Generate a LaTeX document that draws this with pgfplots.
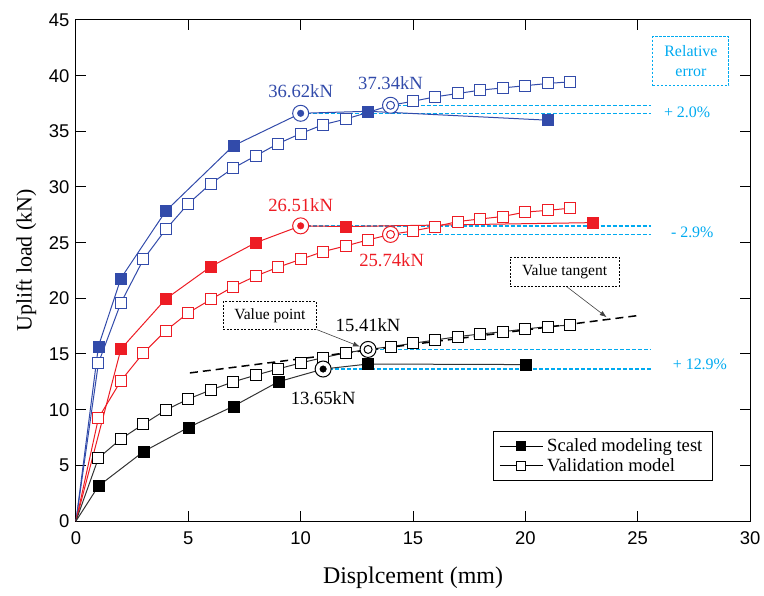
\documentclass[border=0pt]{standalone}
\usepackage{fontspec}
\setmainfont{Liberation Serif}
\newfontfamily\arialf{Liberation Sans}
\usepackage{pgfplots}
\pgfplotsset{compat=1.18}
\usetikzlibrary{arrows.meta}
\definecolor{blueC}{RGB}{50,75,170}
\definecolor{redC}{RGB}{237,28,36}
\definecolor{cyanC}{RGB}{0,170,240}
\newcommand\fs[1]{\fontsize{#1}{#1}\selectfont}
\begin{document}
\begin{tikzpicture}
\begin{axis}[
  width=674bp, height=501bp, scale only axis,
  xmin=0, xmax=30, ymin=0, ymax=45,
  xtick={0,5,...,30}, ytick={0,5,...,45},
  xticklabels={0,5,10,15,20,25,30},
  yticklabels={0,5,10,15,20,25,30,35,40,45},
  tick align=inside, major tick length=10bp,
  tick style={black, line width=1bp},
  axis line style={line width=1bp},
  tick label style={font=\arialf\fontsize{18.5}{18.5}\selectfont},
  xticklabel style={yshift=-7bp},
  yticklabel style={xshift=-3bp},
  xlabel={Displcement (mm)},
  ylabel={Uplift load (kN)},
  xlabel style={font=\fs{24}, at={(axis description cs:0.5,-0.113)}, anchor=center},
  ylabel style={font=\fs{22}, at={(axis description cs:-0.074,0.52)}, anchor=center},
  legend style={at={(axis cs:18.56,8.09)}, anchor=north west, draw=black, line width=0.8bp,
    font=\fs{18.7}, legend cell align=left, inner xsep=6bp, inner ysep=6bp, row sep=2bp,
    nodes={inner xsep=4bp, inner ysep=1.5bp}},
  legend image code/.code={\draw[#1, mark=none] (0cm,0cm) -- (43bp,0cm); \draw[#1] plot coordinates {(21.5bp,0cm)};},
  clip=false,
]
% legend entries
\addlegendimage{black, line width=0.8bp, mark=square*, mark size=4.5bp, mark options={solid}}
\addlegendentry{Scaled modeling test}
\addlegendimage{black, line width=0.8bp, mark=square*, mark size=4.5bp, mark options={solid, fill=white}}
\addlegendentry{Validation model}

% cyan reference lines
\addplot[draw=cyanC, line width=1.3bp, dash pattern=on 4bp off 2bp, forget plot] coordinates {(10,36.62) (25.6,36.62)};
\addplot[draw=cyanC, line width=1.3bp, dash pattern=on 4bp off 2bp, forget plot] coordinates {(14,37.34) (25.6,37.34)};
\addplot[draw=cyanC, line width=1.3bp, dash pattern=on 4bp off 2bp, forget plot] coordinates {(10,26.51) (25.6,26.51)};
\addplot[draw=cyanC, line width=1.3bp, dash pattern=on 4bp off 2bp, forget plot] coordinates {(14,25.74) (25.6,25.74)};
\addplot[draw=cyanC, line width=1.3bp, dash pattern=on 4bp off 2bp, forget plot] coordinates {(13,15.41) (25.6,15.41)};
\addplot[draw=cyanC, line width=1.3bp, dash pattern=on 4bp off 2bp, forget plot] coordinates {(11,13.65) (25.6,13.65)};

% ---------- blue ----------
\addplot[blueC, line width=1bp, forget plot] coordinates {(0,0)(1,15.7)(2,21.8)(4,27.85)(7,33.7)(10,36.62)(13,36.8)(21,36.0)};
\addplot[blueC, line width=1bp, forget plot] coordinates {(0,0)(1,14.2)(2,19.6)(3,23.5)(4,26.2)(5,28.5)(6,30.3)(7,31.7)(8,32.8)(9,33.9)(10,34.8)(11,35.6)(12,36.1)(13,36.7)(14,37.34)(15,37.7)(16,38.1)(17,38.4)(18,38.7)(19,38.9)(20,39.1)(21,39.3)(22,39.45)};
\addplot[blueC, only marks, mark=square*, mark size=5.5bp, mark options={draw=blueC, fill=white, line width=1bp}, forget plot] coordinates {(1,14.2)(2,19.6)(3,23.5)(4,26.2)(5,28.5)(6,30.3)(7,31.7)(8,32.8)(9,33.9)(10,34.8)(11,35.6)(12,36.1)(13,36.7)(15,37.7)(16,38.1)(17,38.4)(18,38.7)(19,38.9)(20,39.1)(21,39.3)(22,39.45)};
\addplot[blueC, only marks, mark=square*, mark size=5.5bp, mark options={fill=blueC}, forget plot] coordinates {(1,15.7)(2,21.8)(4,27.85)(7,33.7)(13,36.8)(21,36.0)};

% ---------- red ----------
\addplot[redC, line width=1bp, forget plot] coordinates {(0,0)(2,15.45)(4,19.95)(6,22.85)(8,25.0)(10,26.51)(12,26.45)(23,26.8)};
\addplot[redC, line width=1bp, forget plot] coordinates {(0,0)(1,9.25)(2,12.6)(3,15.1)(4,17.1)(5,18.7)(6,19.9)(7,21.05)(8,22.0)(9,22.8)(10,23.5)(11,24.2)(12,24.7)(13,25.25)(14,25.74)(15,26.05)(16,26.45)(17,26.9)(18,27.13)(19,27.35)(20,27.75)(21,27.9)(22,28.1)};
\addplot[redC, only marks, mark=square*, mark size=5.5bp, mark options={draw=redC, fill=white, line width=1bp}, forget plot] coordinates {(1,9.25)(2,12.6)(3,15.1)(4,17.1)(5,18.7)(6,19.9)(7,21.05)(8,22.0)(9,22.8)(10,23.5)(11,24.2)(12,24.7)(13,25.25)(15,26.05)(16,26.45)(17,26.9)(18,27.13)(19,27.35)(20,27.75)(21,27.9)(22,28.1)};
\addplot[redC, only marks, mark=square*, mark size=5.5bp, mark options={fill=redC}, forget plot] coordinates {(2,15.45)(4,19.95)(6,22.85)(8,25.0)(12,26.45)(23,26.8)};

% ---------- black ----------
\addplot[black!80, line width=1bp, forget plot] coordinates {(0,0)(1,3.14)(3,6.23)(5,8.4)(7,10.3)(9,12.5)(11,13.65)(13,14.1)(20,14.05)};
\addplot[black!80, line width=1bp, forget plot] coordinates {(0,0)(1,5.66)(2,7.37)(3,8.7)(4,9.97)(5,10.96)(6,11.77)(7,12.5)(8,13.1)(9,13.66)(10,14.2)(11,14.67)(12,15.1)(13,15.41)(14,15.66)(15,15.96)(16,16.26)(17,16.56)(18,16.8)(19,17.0)(20,17.25)(21,17.46)(22,17.6)};
\addplot[black, only marks, mark=square*, mark size=5.5bp, mark options={draw=black, fill=white, line width=1bp}, forget plot] coordinates {(1,5.66)(2,7.37)(3,8.7)(4,9.97)(5,10.96)(6,11.77)(7,12.5)(8,13.1)(9,13.66)(10,14.2)(11,14.67)(12,15.1)(14,15.66)(15,15.96)(16,16.26)(17,16.56)(18,16.8)(19,17.0)(20,17.25)(21,17.46)(22,17.6)};
\addplot[black, only marks, mark=square*, mark size=5.5bp, mark options={fill=black}, forget plot] coordinates {(1,3.14)(3,6.23)(5,8.4)(7,10.3)(9,12.5)(13,14.1)(20,14.05)};

% tangent line (drawn over the open squares)
\addplot[black, line width=1.5bp, dash pattern=on 8bp off 5bp, forget plot] coordinates {(5.07,13.3) (25.0,18.45)};

% ---------- peak circles ----------
\addplot[blueC, only marks, mark=*, mark size=8bp, mark options={draw=blueC, fill=white, line width=1bp}, forget plot] coordinates {(10,36.62)};
\addplot[blueC, only marks, mark=*, mark size=3.3bp, mark options={fill=blueC}, forget plot] coordinates {(10,36.62)};
\addplot[redC, only marks, mark=*, mark size=8bp, mark options={draw=redC, fill=white, line width=1bp}, forget plot] coordinates {(10,26.51)};
\addplot[redC, only marks, mark=*, mark size=3.3bp, mark options={fill=redC}, forget plot] coordinates {(10,26.51)};
\addplot[black, only marks, mark=*, mark size=8bp, mark options={draw=black, fill=white, line width=1bp}, forget plot] coordinates {(11,13.65)};
\addplot[black, only marks, mark=*, mark size=3.3bp, mark options={fill=black}, forget plot] coordinates {(11,13.65)};
\addplot[blueC, only marks, mark=*, mark size=8bp, mark options={draw=blueC, fill=white, line width=1bp}, forget plot] coordinates {(14,37.34)};
\addplot[blueC, only marks, mark=*, mark size=4bp, mark options={draw=blueC, fill=white, line width=1bp}, forget plot] coordinates {(14,37.34)};
\addplot[redC, only marks, mark=*, mark size=8bp, mark options={draw=redC, fill=white, line width=1bp}, forget plot] coordinates {(14,25.74)};
\addplot[redC, only marks, mark=*, mark size=4bp, mark options={draw=redC, fill=white, line width=1bp}, forget plot] coordinates {(14,25.74)};
\addplot[black, only marks, mark=*, mark size=8bp, mark options={draw=black, fill=white, line width=1bp}, forget plot] coordinates {(13,15.41)};
\addplot[black, only marks, mark=*, mark size=4bp, mark options={draw=black, fill=white, line width=1bp}, forget plot] coordinates {(13,15.41)};

% ---------- value labels ----------
\node[text=blueC, font=\fs{18.7}] at (axis cs:10,38.6) {36.62kN};
\node[text=blueC, font=\fs{18.7}] at (axis cs:14.0,39.35) {37.34kN};
\node[text=redC, font=\fs{18.7}] at (axis cs:10,28.4) {26.51kN};
\node[text=redC, font=\fs{18.7}] at (axis cs:14.05,23.45) {25.74kN};
\node[text=black, font=\fs{18.7}] at (axis cs:13.0,17.6) {15.41kN};
\node[text=black, font=\fs{18.7}] at (axis cs:11.0,11.0) {13.65kN};

% relative error
\node[draw=cyanC, dash pattern=on 2.5bp off 1.5bp, line width=0.9bp, text=cyanC, align=center,
  font=\fontsize{16}{20}\selectfont, minimum width=76bp, minimum height=49bp, inner sep=1bp]
  at (axis cs:27.37,41.3) {Relative\\error};
\node[text=cyanC, font=\fs{16}] at (axis cs:27.2,36.7) {+ 2.0\%};
\node[text=cyanC, font=\fs{16}] at (axis cs:27.43,25.9) {- 2.9\%};
\node[text=cyanC, font=\fs{16}] at (axis cs:27.77,14.1) {+ 12.9\%};

% callouts
\node[draw=black, dash pattern=on 2bp off 1.5bp, line width=0.8bp, fill=white, font=\fs{15.6},
  minimum width=93bp, minimum height=28bp, inner sep=1bp] at (axis cs:8.63,18.45) {Value point};
\node[draw=black, dash pattern=on 2bp off 1.5bp, line width=0.8bp, fill=white, font=\fs{15.6},
  minimum width=109bp, minimum height=29bp, inner sep=1bp] at (axis cs:21.75,22.4) {Value tangent};
\draw[black!75, line width=0.6bp, -{Latex[length=7bp,width=5bp]}] (axis cs:10.71,17.2) -- (axis cs:12.64,15.66);
\draw[black!75, line width=0.6bp, -{Latex[length=7bp,width=5bp]}] (axis cs:21.84,21.05) -- (axis cs:23.62,18.3);
\end{axis}
\pgfresetboundingbox
\path[use as bounding box] ([shift={(-76bp,-75bp)}]current axis.south west) rectangle ([shift={(14bp,20bp)}]current axis.north east);
\end{tikzpicture}
\end{document}
